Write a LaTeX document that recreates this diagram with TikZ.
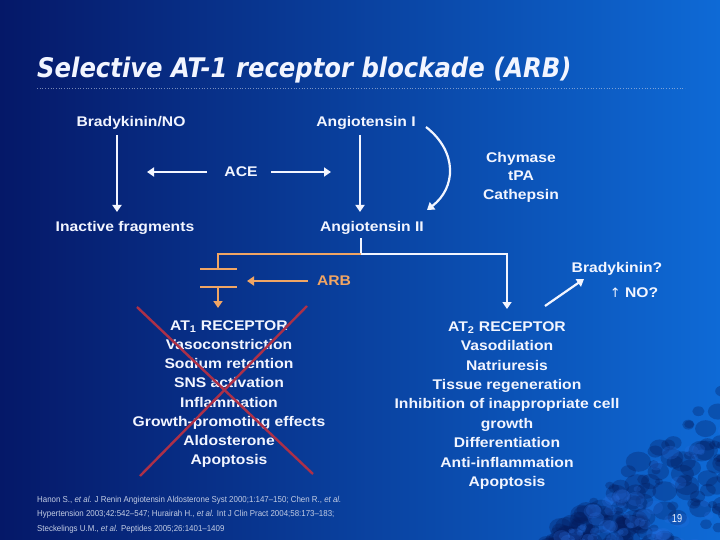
\documentclass[tikz,border=0pt]{standalone}
\usepackage{fontspec}
\usetikzlibrary{arrows.meta}
\newfontfamily\bodyf{Liberation Sans}[FakeStretch=1.12]
\newfontfamily\titlef{DejaVu Sans}[FakeStretch=0.9]
\newfontfamily\reff{Liberation Sans}[FakeStretch=0.92]
\newfontfamily\pgf{Liberation Sans}[FakeStretch=0.8]
\newfontfamily\symf{DejaVu Sans}
\definecolor{txt}{RGB}{242,245,255}
\definecolor{org}{RGB}{240,165,100}
\definecolor{xred}{RGB}{172,48,72}
\definecolor{bgl}{RGB}{5,24,104}
\definecolor{bgr}{RGB}{14,106,214}
\definecolor{refc}{RGB}{195,205,228}
\definecolor{blob}{RGB}{4,26,90}
\definecolor{blobl}{RGB}{40,110,225}
\begin{document}
\begin{tikzpicture}[x=1pt,y=-1pt,
 lbl/.style={text=txt,font=\bodyf\bfseries\fontsize{14}{19.2}\selectfont,inner sep=1pt,align=center},
 warr/.style={draw=txt,line width=2.2pt,-{Triangle[length=7pt,width=9pt]}},
 wline/.style={draw=txt,line width=2.2pt},
 oline/.style={draw=org,line width=2.6pt},
 oarr/.style={draw=org,line width=2.6pt,-{Triangle[length=7pt,width=9pt]}},
 xline/.style={draw=xred,line width=2.4pt},
 refs/.style={text=refc,font=\reff\fontsize{8.6}{10}\selectfont,anchor=west,inner sep=0pt}]
\useasboundingbox (0,0) rectangle (720,540);
\shade[left color=bgl,right color=bgr] (0,0) rectangle (720,540);
% texture bottom right
\pgfmathsetseed{42}
\foreach \i in {1,...,160}{
 \pgfmathsetmacro\px{545+180*rnd}
 \pgfmathsetmacro\py{548-(\px-535)*0.85*rnd}
 \pgfmathsetmacro\rr{4+9*rnd}
 \fill[blob,opacity=0.3] (\px,\py) ellipse ({\rr} and {\rr*0.8});
}
\foreach \i in {1,...,60}{
 \pgfmathsetmacro\px{560+165*rnd}
 \pgfmathsetmacro\py{548-(\px-545)*0.8*rnd}
 \pgfmathsetmacro\rr{3+6*rnd}
 \fill[blobl,opacity=0.25] (\px,\py) ellipse ({\rr} and {\rr*0.8});
}
% title
\node[anchor=west,text=txt,font=\titlef\bfseries\itshape\fontsize{27}{30}\selectfont,inner sep=0pt] (title) at (37,70) {Selective AT-1 receptor blockade (ARB)};
\coordinate (s1) at (37,88); \coordinate (s2) at (685,88);
\draw[refc,dotted,line width=0.7pt,opacity=0.6] (s1) -- (s2);
% nodes
\node[lbl] (brady) at (131,122.5) {Bradykinin/NO};
\node[lbl] (ang1) at (366,122.5) {Angiotensin I};
\node[lbl] (inact) at (125,227.5) {Inactive fragments};
\node[lbl] (ace) at (241,172) {ACE};
\node[lbl] (ang2) at (372,227.5) {Angiotensin II};
\node[lbl,font=\bodyf\bfseries\fontsize{14}{18.5}\selectfont] (chym) at (521,177) {Chymase\\tPA\\Cathepsin};
\node[lbl,text=org] (arb) at (334,281) {ARB};
\node[lbl] (brq) at (617,268.5) {Bradykinin?};
\node[lbl] (noq) at (634,293) {{\symf\mdseries\fontsize{13}{13}\selectfont ↑} NO?};
\node[lbl] (at1) at (229,394) {AT\textsubscript{1} RECEPTOR\\Vasoconstriction\\Sodium retention\\SNS activation\\Inflammation\\Growth-promoting effects\\Aldosterone\\Apoptosis};
\node[lbl,font=\bodyf\bfseries\fontsize{14}{19.4}\selectfont] (at2) at (507,405.5) {AT\textsubscript{2} RECEPTOR\\Vasodilation\\Natriuresis\\Tissue regeneration\\Inhibition of inappropriate cell\\growth\\Differentiation\\Anti-inflammation\\Apoptosis};
% coordinates
\coordinate (b1) at (117,135); \coordinate (b2) at (117,212);
\coordinate (a1) at (360,135); \coordinate (a2) at (360,212);
\coordinate (e1) at (207,172); \coordinate (e2) at (147,172);
\coordinate (e3) at (271,172); \coordinate (e4) at (331,172);
\coordinate (c1) at (426,127); \coordinate (c2) at (427,210);
\coordinate (j0) at (361,238); \coordinate (j) at (361,254);
\coordinate (o1) at (218,254); \coordinate (o2) at (218,269);
\coordinate (o3) at (218,287); \coordinate (o4) at (218,308);
\coordinate (p1) at (200,269); \coordinate (p2) at (237,269);
\coordinate (q1) at (200,287); \coordinate (q2) at (237,287);
\coordinate (w1) at (507,254); \coordinate (w2) at (507,309);
\coordinate (r1) at (308,281); \coordinate (r2) at (247,281);
\coordinate (k1) at (545,306); \coordinate (k2) at (584,279);
% connectors
\draw[warr] (b1) -- (b2);
\draw[warr] (a1) -- (a2);
\draw[warr] (e1) -- (e2);
\draw[warr] (e3) -- (e4);
\draw[warr] (c1) .. controls (458,152) and (456,188) .. (c2);
\draw[wline] (j0) -- (j);
\draw[warr] (j) -- (w1) -- (w2);
\draw[oline] (j) -- (o1) -- (o2);
\draw[oline] (p1) -- (p2);
\draw[oline] (q1) -- (q2);
\draw[oarr] (o3) -- (o4);
\draw[oarr] (r1) -- (r2);
\draw[warr] (k1) -- (k2);
% red cross
\coordinate (x1) at (137,307); \coordinate (x2) at (313,474);
\coordinate (x3) at (307,306); \coordinate (x4) at (140,476);
\draw[xline] (x1) -- (x2);
\draw[xline] (x3) -- (x4);
% references
\node[refs] (ref1) at (37,500) {Hanon S., \textit{et al.} J Renin Angiotensin Aldosterone Syst 2000;1:147–150; Chen R., \textit{et al.}};
\node[refs] (ref2) at (37,514.5) {Hypertension 2003;42:542–547; Hurairah H., \textit{et al.} Int J Clin Pract 2004;58:173–183;};
\node[refs] (ref3) at (37,529) {Steckelings U.M., \textit{et al.} Peptides 2005;26:1401–1409};
\node[text=txt,font=\pgf\fontsize{11.5}{12}\selectfont,inner sep=0pt] (pg) at (677,519) {19};
\end{tikzpicture}
\end{document}
